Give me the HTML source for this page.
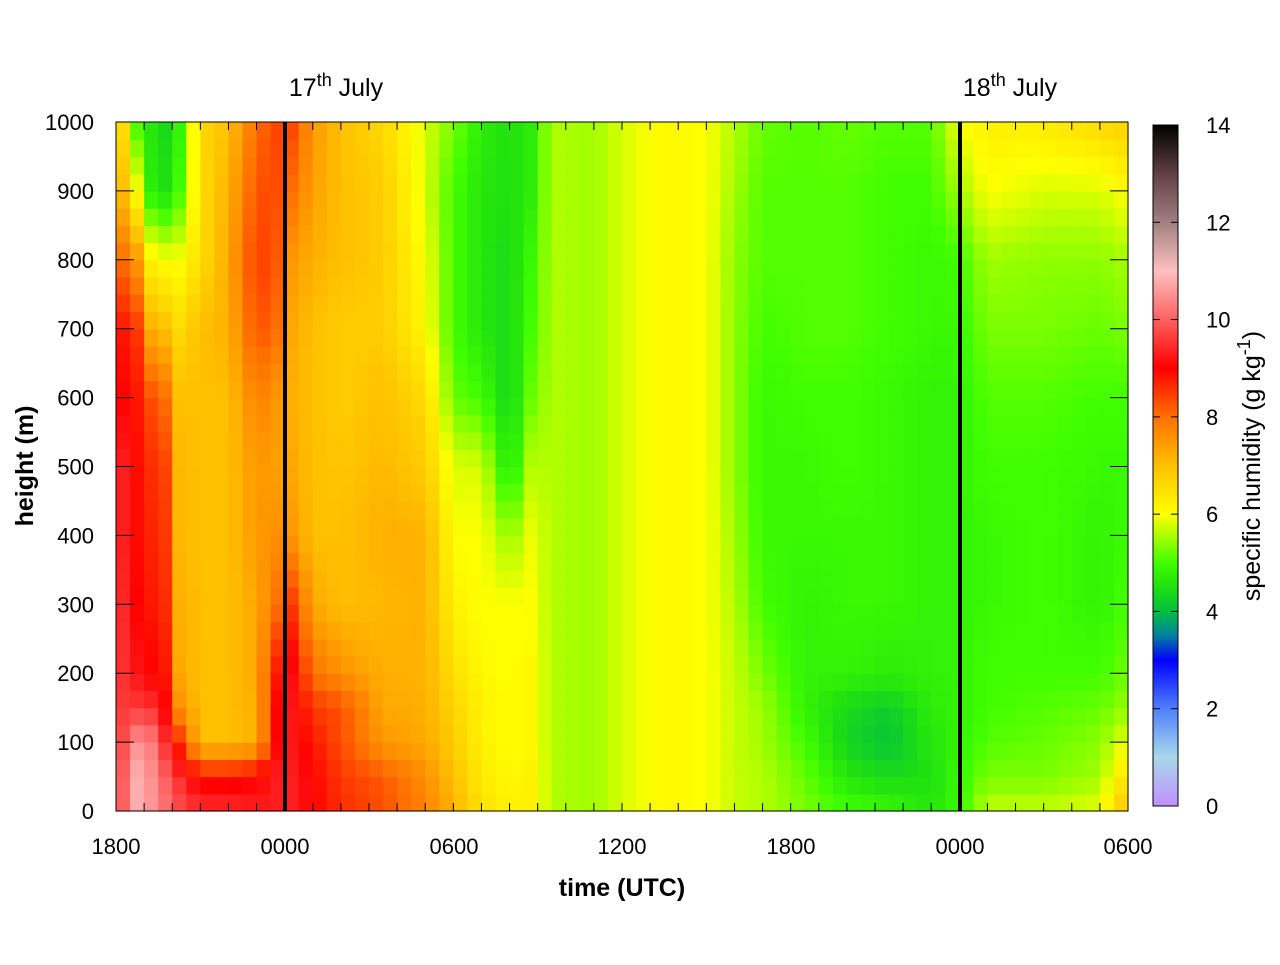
<!DOCTYPE html>
<html><head><meta charset="utf-8"><style>
html,body{margin:0;padding:0;background:#fff;}
svg text{font-family:"Liberation Sans",sans-serif;}
</style></head><body>
<svg id="s" width="1280" height="960" xmlns="http://www.w3.org/2000/svg">
<defs>
<linearGradient id="cb" x1="0" y1="1" x2="0" y2="0">
<stop offset="0" stop-color="#c090ff"/>
<stop offset="0.0714" stop-color="#a8d8e8"/>
<stop offset="0.1428" stop-color="#5080ff"/>
<stop offset="0.2142" stop-color="#0000ff"/>
<stop offset="0.25" stop-color="#0080a0"/>
<stop offset="0.2857" stop-color="#00c040"/>
<stop offset="0.3214" stop-color="#20e010"/>
<stop offset="0.3571" stop-color="#40ff00"/>
<stop offset="0.4286" stop-color="#ffff00"/>
<stop offset="0.5" stop-color="#ffc000"/>
<stop offset="0.5714" stop-color="#ff7000"/>
<stop offset="0.6428" stop-color="#ff0000"/>
<stop offset="0.7142" stop-color="#ff6060"/>
<stop offset="0.7857" stop-color="#ffc0c0"/>
<stop offset="0.8571" stop-color="#a08080"/>
<stop offset="0.9285" stop-color="#604040"/>
<stop offset="1" stop-color="#000000"/>
</linearGradient>
</defs>
<g id="heat"></g>
<rect x="116" y="122" width="1012" height="689" fill="none" stroke="#000" stroke-width="1"/>
<g id="ticks" stroke="#000" stroke-width="1"></g>
<line x1="285" y1="122" x2="285" y2="811" stroke="#000" stroke-width="4"/>
<line x1="960" y1="122" x2="960" y2="811" stroke="#000" stroke-width="4"/>
<g font-size="22" text-anchor="end" id="ylab"></g>
<g font-size="22" text-anchor="middle">
<text x="116" y="854">1800</text><text x="285" y="854">0000</text><text x="454" y="854">0600</text>
<text x="622" y="854">1200</text><text x="791" y="854">1800</text><text x="960" y="854">0000</text><text x="1128" y="854">0600</text>
</g>
<text x="622" y="896" font-size="25" font-weight="bold" text-anchor="middle">time (UTC)</text>
<text transform="translate(33,466) rotate(-90)" font-size="25" font-weight="bold" text-anchor="middle">height (m)</text>
<text x="336" y="96" font-size="25" text-anchor="middle">17<tspan dy="-10" font-size="18">th</tspan><tspan dy="10"> July</tspan></text>
<text x="1010" y="96" font-size="25" text-anchor="middle">18<tspan dy="-10" font-size="18">th</tspan><tspan dy="10"> July</tspan></text>
<rect x="1153" y="125" width="25" height="681" fill="url(#cb)" stroke="#000" stroke-width="1"/>
<g id="cbt" stroke="#000"></g>
<g font-size="22" text-anchor="start" id="cbl"></g>
<text transform="translate(1260,466) rotate(-90)" font-size="25" text-anchor="middle">specific humidity (g kg<tspan dy="-10" font-size="18">-1</tspan><tspan dy="10">)</tspan></text>
</svg>
<script>
var NS="http://www.w3.org/2000/svg";
function el(p,n,a){var e=document.createElementNS(NS,n);for(var k in a)e.setAttribute(k,a[k]);p.appendChild(e);return e;}
var H=[0,50,100,150,200,300,400,500,600,700,800,900,1000];
function c(v){return H.map(function(){return v;});}
var K=[
[0.25,[10,10,9.8,9.6,9.5,9.4,9.3,9.3,9,8.8,8,7,6.5]],
[0.75,[10.8,10.8,10.5,9.6,9.2,9,8.9,8.9,8.8,8.5,7.5,6,5]],
[1.25,[10.6,10.5,10.3,9.5,9,8.8,8.7,8.6,8.3,7.2,6.2,4.7,4.6]],
[1.75,[10.2,10,9.5,9,8.8,8.6,8.5,8.4,8,7,6,4.5,4.4]],
[2.25,[9.8,9.5,8.6,7.6,7.3,7.2,7.1,7.1,7,6.6,6,5,4.8]],
[3,[9.5,8.8,7.0,7,7,7,7,7,7,7,6.5,6.5,6.6]],
[4,[9.5,8.8,7,7,7,7,7,7,7,7.2,7.3,7.2,7]],
[5,[9.3,9.0,7.2,7.2,7.3,7.3,7.5,7.5,7.8,8.3,8.5,8.3,8]],
[5.75,[9.3,9.3,9,9,8.8,8,7.6,7.4,7.5,8,8.2,8.3,8.4]],
[6.25,[9.3,9.3,9.2,9.2,9.1,8.5,7.5,7.3,7.2,7.3,7.5,8,8.4]],
[7,[9,9,8.8,8.5,8,7.3,7,7,7,7,7.2,7.4,7.5]],
[8,[8.6,8.5,8.3,8.3,7.6,7,7,6.9,6.8,6.8,7,7,7]],
[9.5,[8.3,8.2,7.5,7.3,7.2,7.1,7.2,7.1,7,6.8,6.8,6.8,6.6]],
[11,[7.8,7.6,7.3,7.2,7.2,7.2,7.2,6.8,6.6,6.1,6,5.8,5.8]],
[12,[7.2,7,6.8,6.7,6.5,6.2,6,5.8,5.2,5,5,5,5.3]],
[13,[6.5,6.3,6.2,6.2,6.1,6,6,5.8,5,4.6,4.6,4.6,4.7]],
[14,[6.2,6.1,6,6,6,6,5.4,4.5,4.3,4.4,4.4,4.5,4.5]],
[14.75,[6.2,6.2,6.1,6.1,6.1,6,5.9,5.6,5.2,5,4.9,4.7,4.7]],
[15.5,c(5.6)],[17,c(5.5)],[18,c(5.8)],[19.5,c(6.1)],[21,c(6)],
[22,[5.7,5.7,5.7,5.7,5.7,5.6,5.5,5.4,5.4,5.4,5.4,5.5,5.6]],
[23,[5.6,5.6,5.5,5.5,5.3,5,4.9,4.9,4.9,5,5.1,5.1,5.2]],
[24.5,[5.3,5.2,5,4.8,4.8,4.8,4.9,4.9,5,5.1,5.1,5.1,5.1]],
[26,[5.0,4.6,4.3,4.4,4.8,4.9,4.9,5,5,5.1,5.1,5.1,5.2]],
[27.5,[4.9,4.4,4.1,4.2,4.7,4.9,4.9,4.9,4.9,5,5,5,5.1]],
[29,[4.6,4.5,4.6,4.7,4.8,4.8,4.8,4.8,4.8,4.9,4.9,5,5.1]],
[30,[4.9,4.9,4.8,4.8,4.8,4.8,4.8,4.8,4.8,4.9,5,5.5,6]],
[31,[5.7,5.3,5.1,5.0,5,4.9,4.9,5,5.1,5.3,5.5,6,6.2]],
[33,[5.7,5.3,5.2,5.1,5,5,5,5,5.1,5.3,5.4,5.8,6.3]],
[35,[5.9,5.5,5.4,5.2,5,4.8,4.8,4.9,5,5.2,5.4,5.8,6.6]],
[35.75,[6.8,6.3,5.8,5.4,5.2,5,4.9,4.9,5,5.3,5.5,6,6.7]]];
function prof(p,h){for(var i=0;i<H.length-1;i++){if(h<=H[i+1]){var f=(h-H[i])/(H[i+1]-H[i]);return p[i]+(p[i+1]-p[i])*f;}}return p[p.length-1];}
function q(t,h){if(t<=K[0][0])return prof(K[0][1],h);for(var i=0;i<K.length-1;i++){if(t<=K[i+1][0]){var f=(t-K[i][0])/(K[i+1][0]-K[i][0]);return prof(K[i][1],h)*(1-f)+prof(K[i+1][1],h)*f;}}return prof(K[K.length-1][1],h);}
var S=[[0,[192,144,255]],[1,[168,216,232]],[2,[80,128,255]],[3,[0,0,255]],[3.5,[0,128,160]],[4,[0,192,64]],[4.5,[32,224,16]],[5,[64,255,0]],[6,[255,255,0]],[7,[255,192,0]],[8,[255,112,0]],[9,[255,0,0]],[10,[255,96,96]],[11,[255,192,192]],[12,[160,128,128]],[13,[96,64,64]],[14,[0,0,0]]];
function col(v){v=Math.max(0,Math.min(14,v));for(var i=0;i<S.length-1;i++){if(v<=S[i+1][0]){var f=(v-S[i][0])/(S[i+1][0]-S[i][0]);var a=S[i][1],b=S[i+1][1];return "rgb("+a.map(function(x,k){return Math.round(x+(b[k]-x)*f);}).join(",")+")";}}return "#000";}
var g=document.getElementById("heat");
var x0=116,W=1012,y0=122,Hp=689,cw=W/72,nr=40,rh=Hp/nr;
for(var i=0;i<72;i++){var t=i*0.5+0.25;for(var j=0;j<nr;j++){var h=(j+0.5)*1000/nr;
el(g,"rect",{x:(x0+i*cw).toFixed(2),y:(y0+Hp-(j+1)*rh).toFixed(2),width:(cw+0.6).toFixed(2),height:(rh+0.6).toFixed(2),fill:col(q(t,h))});}}
var tk=document.getElementById("ticks");
for(var i=1;i<36;i++){var x=x0+i*W/36;el(tk,"line",{x1:x,y1:811,x2:x,y2:803});el(tk,"line",{x1:x,y1:122,x2:x,y2:130});}
var yl=document.getElementById("ylab");
for(var k=0;k<=10;k++){var y=811-k*68.9;el(tk,"line",{x1:116,y1:y,x2:134,y2:y});el(tk,"line",{x1:1110,y1:y,x2:1128,y2:y});
var tx=el(yl,"text",{x:94,y:y+8});tx.textContent=String(k*100);}
var cbt=document.getElementById("cbt"),cbl=document.getElementById("cbl");
for(var k=0;k<=14;k+=2){var y=806-k*681/14;el(cbt,"line",{x1:1153,y1:y,x2:1160,y2:y});el(cbt,"line",{x1:1171,y1:y,x2:1178,y2:y});
var tx=el(cbl,"text",{x:1206,y:y+8});tx.textContent=String(k);}
</script>
</body></html>
